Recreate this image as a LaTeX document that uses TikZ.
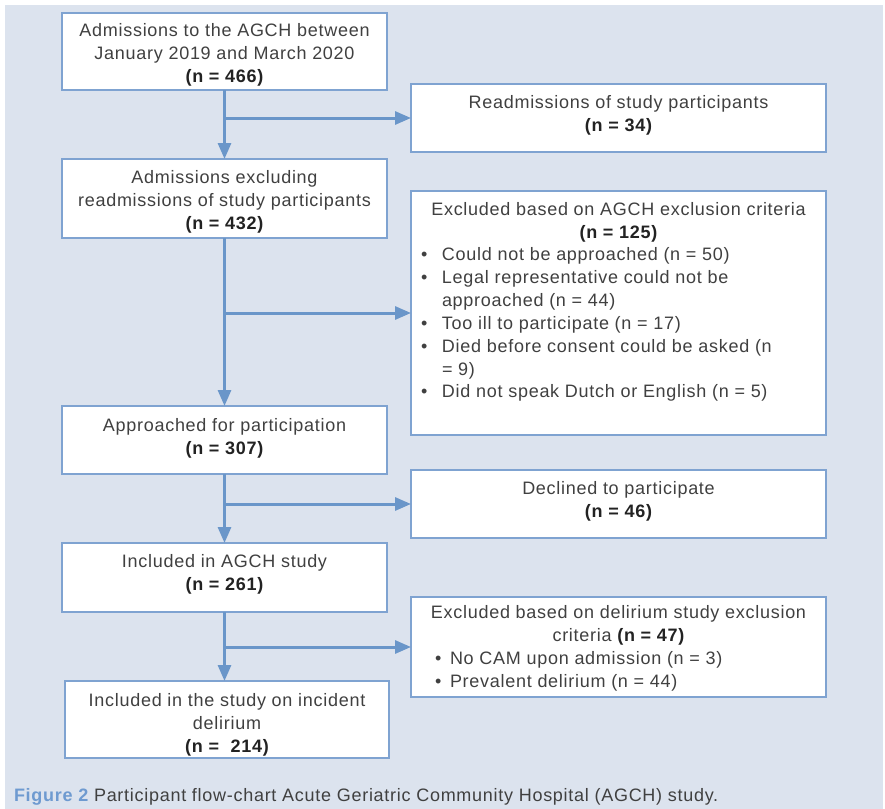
\documentclass[tikz,border=0pt]{standalone}
\usepackage{fontspec}
\setmainfont{Liberation Sans}[LetterSpace=4]
\usetikzlibrary{arrows.meta}

\definecolor{bgpanel}{HTML}{DCE3EE}
\definecolor{boxline}{HTML}{7FA3D1}
\definecolor{flow}{HTML}{6A96C9}
\definecolor{bodytext}{HTML}{404040}
\definecolor{numtext}{HTML}{222222}
\definecolor{figlabel}{HTML}{6E9AD0}

\newcommand{\nval}[1]{{\bfseries\color{numtext}#1}}
\newcommand{\bul}[1]{\makebox[#1][l]{\textbullet}}

\begin{document}
\begin{tikzpicture}[x=1bp,y=-1bp,
  every node/.style={inner sep=0pt, outer sep=0pt},
  stage/.style={draw=boxline, line width=1.4bp, fill=white, rectangle, anchor=north west},
  wide/.style={stage, minimum width=325bp},
  side/.style={stage, minimum width=415bp},
  boxtext/.style={anchor=north, align=center, text=bodytext,
    font=\fontsize{18bp}{22.9bp}\selectfont, execute at begin node=\strut},
  listtext/.style={boxtext, anchor=north west, align=left},
  flowarrow/.style={draw=flow, line width=3bp, -{Triangle[length=16bp,width=13bp]}},
]
% page and panel
\useasboundingbox (0,0) rectangle (885,809);
\fill[white] (0,0) rectangle (885,809);
\fill[bgpanel] (5,5) rectangle (883,809);

% main column
\node[wide, minimum height=77bp] (b1) at (62,13) {};
\node[wide, minimum height=79bp] (b3) at (62,159) {};
\node[wide, minimum height=68bp] (b5) at (62,406) {};
\node[wide, minimum height=69bp] (b7) at (62,543) {};
\node[stage, minimum width=324bp, minimum height=77bp] (b9) at (65,681) {};

% exclusion column
\node[side, minimum height=68bp] (b2) at (411,84) {};
\node[side, minimum height=244bp] (b4) at (411,191) {};
\node[side, minimum height=68bp] (b6) at (411,470) {};
\node[side, minimum height=100bp] (b8) at (411,597) {};

% texts
\node[boxtext] (t1) at (224.5,23.5) {Admissions to the AGCH between\\January 2019 and March 2020\\\nval{(n = 466)}};
\node[boxtext] (t2) at (618.5,95.5) {Readmissions of study participants\\\nval{(n = 34)}};
\node[boxtext] (t3) at (224.5,170.5) {Admissions excluding\\readmissions of study participants\\\nval{(n = 432)}};
\node[boxtext] (t4) at (618.5,202.5) {Excluded based on AGCH exclusion criteria\\\nval{(n = 125)}};
\node[listtext] (l4) at (421,247.5) {%
  \bul{21bp}Could not be approached (n = 50)\\
  \bul{21bp}Legal representative could not be\\
  \hspace*{21bp}approached (n = 44)\\
  \bul{21bp}Too ill to participate (n = 17)\\
  \bul{21bp}Died before consent could be asked (n\\
  \hspace*{21bp}= 9)\\
  \bul{21bp}Did not speak Dutch or English (n = 5)};
\node[boxtext] (t5) at (224.5,418.5) {Approached for participation\\\nval{(n = 307)}};
\node[boxtext] (t6) at (618.5,481.5) {Declined to participate\\\nval{(n = 46)}};
\node[boxtext] (t7) at (224.5,554.5) {Included in AGCH study\\\nval{(n = 261)}};
\node[boxtext] (t8) at (618.5,605.5) {Excluded based on delirium study exclusion\\criteria \nval{(n = 47)}};
\node[listtext] (l8) at (435,651.5) {%
  \bul{15bp}No CAM upon admission (n = 3)\\
  \bul{15bp}Prevalent delirium (n = 44)};
\node[boxtext] (t9) at (227,693.5) {Included in the study on incident\\delirium\\\nval{(n = \ 214)}};

% caption
\node[anchor=base west, text=bodytext, font=\fontsize{18bp}{22.9bp}\selectfont] (cap) at (14,801)
  {{\bfseries\color{figlabel}Figure 2} Participant flow-chart Acute Geriatric Community Hospital (AGCH) study.};

% connectors
\coordinate (j1) at (b1.south |- b2.west);
\coordinate (j2) at (b3.south |- b4.west);
\coordinate (j3) at (b5.south |- b6.west);
\coordinate (j4) at (b7.south |- b8.west);
\coordinate (e9) at (b7.south |- b9.north);

\draw[flowarrow] (b1.south) -- (b3.north);
\draw[flowarrow] (j1) -- (b2.west);
\draw[flowarrow] (b3.south) -- (b5.north);
\draw[flowarrow] (j2) -- (b4.west);
\draw[flowarrow] (b5.south) -- (b7.north);
\draw[flowarrow] (j3) -- (b6.west);
\draw[flowarrow] (b7.south) -- (e9);
\draw[flowarrow] (j4) -- (b8.west);
\end{tikzpicture}
\end{document}
